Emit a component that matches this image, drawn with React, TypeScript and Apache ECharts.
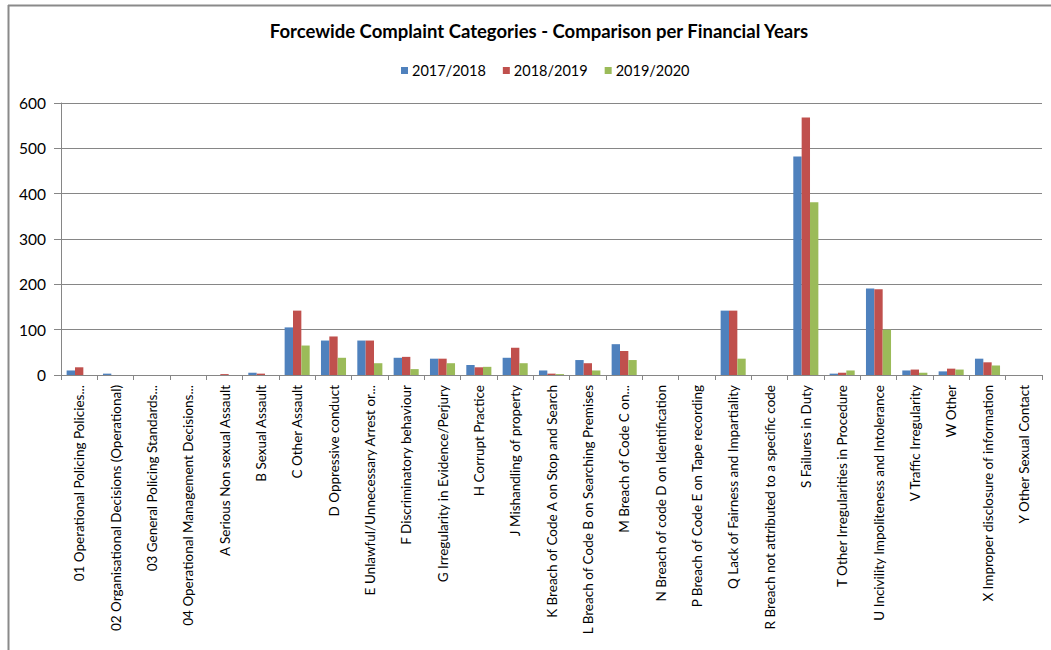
import React, { useEffect, useRef } from "react";
import * as echarts from "echarts";

const categories = [
  "01 Operational Policing Policies...",
  "02 Organisational Decisions (Operational)",
  "03 General Policing Standards...",
  "04 Operational Management Decisions...",
  "A Serious Non sexual Assault",
  "B Sexual Assault",
  "C Other Assault",
  "D Oppressive conduct",
  "E Unlawful/Unnecessary Arrest or...",
  "F Discriminatory behaviour",
  "G Irregularity in Evidence/Perjury",
  "H Corrupt Practice",
  "J Mishandling of property",
  "K Breach of Code A on Stop and Search",
  "L Breach of Code B on Searching Premises",
  "M Breach of Code C on...",
  "N Breach of code D on Identification",
  "P Breach of Code E on Tape recording",
  "Q Lack of Fairness and Impartiality",
  "R Breach not attributed to a specific code",
  "S Failures in Duty",
  "T Other Irregularities in Procedure",
  "U Incivility Impoliteness and Intolerance",
  "V Traffic Irregularity",
  "W Other",
  "X Improper disclosure of information",
  "Y Other Sexual Contact",
];

const seriesNames = ["2017/2018", "2018/2019", "2019/2020"];

const values2017 = [10, 3, 0, 0, 0, 5, 105, 76, 76, 38, 36, 22, 38, 10, 33, 68, 0, 0, 142, 0, 482, 3, 191, 10, 8, 36, 0];
const values2018 = [17, 0, 0, 0, 2, 3, 142, 85, 76, 40, 36, 17, 60, 3, 26, 53, 0, 0, 142, 0, 568, 5, 189, 12, 14, 28, 0];
const values2019 = [0, 0, 0, 0, 0, 0, 65, 38, 26, 13, 26, 18, 26, 2, 10, 33, 0, 0, 36, 0, 381, 10, 100, 5, 12, 21, 0];

const yTicks = { min: 0, max: 600, interval: 100 };

const colors = ["#4F81BD", "#C0504D", "#9BBB59"];

export default function App() {
  const ref = useRef<HTMLDivElement>(null);
  useEffect(() => {
    if (!ref.current) return;
    const chart = echarts.init(ref.current, null, { renderer: "svg" });
    const font = "Lato, 'Open Sans', sans-serif";
    const data = [values2017, values2018, values2019];
    chart.setOption({
      animation: false,
      backgroundColor: "#ffffff",
      color: colors,
      textStyle: { fontFamily: font },
      title: {
        text: "Forcewide Complaint Categories - Comparison per Financial Years",
        left: 534,
        textAlign: "center",
        top: 16,
        textStyle: { fontSize: 18.5, fontWeight: "bold", color: "#000", fontFamily: font },
      },
      legend: {
        data: seriesNames,
        top: 58,
        left: 396,
        itemWidth: 7,
        itemHeight: 7,
        itemGap: 17,
        icon: "rect",
        textStyle: { fontSize: 14.5, color: "#000", fontFamily: font, padding: [0, 0, 0, -1] },
      },
      grid: { left: 61, right: 9, top: 103, bottom: 275, containLabel: false },
      xAxis: {
        type: "category",
        data: categories,
        axisLine: { lineStyle: { color: "#868686" } },
        axisTick: { show: true, length: 5, lineStyle: { color: "#868686" } },
        axisLabel: {
          interval: 0,
          rotate: 90,
          fontSize: 13.5,
          color: "#000",
          margin: 10,
          fontFamily: font,
        },
      },
      yAxis: {
        type: "value",
        min: yTicks.min,
        max: yTicks.max,
        interval: yTicks.interval,
        axisLine: { show: true, lineStyle: { color: "#868686" } },
        axisTick: { show: true, length: 7, lineStyle: { color: "#868686" } },
        axisLabel: { fontSize: 15.5, color: "#000", margin: 15, fontFamily: font },
        splitLine: { lineStyle: { color: "#868686" } },
      },
      series: seriesNames.map((name, i) => ({
        name,
        type: "bar",
        data: data[i],
        barGap: "0%",
        barCategoryGap: "31%",
        itemStyle: { color: colors[i] },
      })),
      graphic: [
        { type: "line", shape: { x1: 8.5, y1: 5, x2: 8.5, y2: 650 }, style: { stroke: "#8a8a8a", lineWidth: 2 } },
        { type: "line", shape: { x1: 8, y1: 5.5, x2: 1051, y2: 5.5 }, style: { stroke: "#8a8a8a", lineWidth: 2 } },
      ],
    });
    return () => chart.dispose();
  }, []);
  return (
    <div
      ref={ref}
      style={{ position: "absolute", left: 0, top: 0, width: 1051, height: 650 }}
    />
  );
}
